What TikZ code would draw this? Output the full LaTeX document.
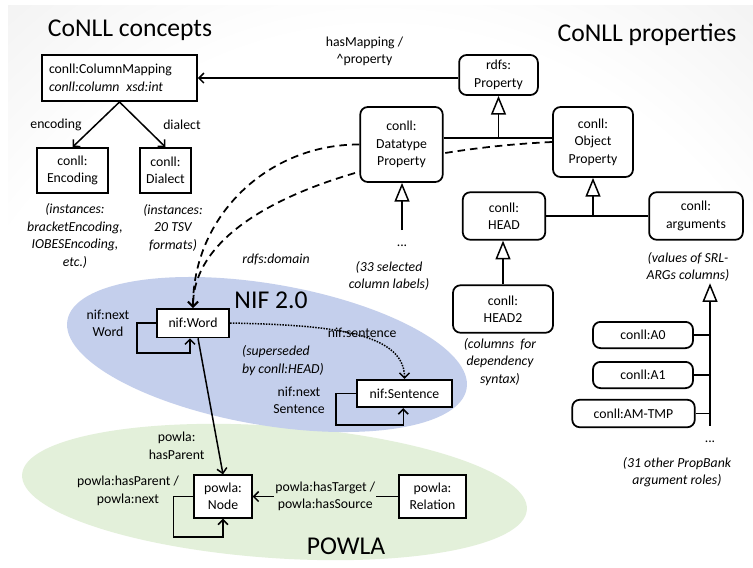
\documentclass[tikz,border=0pt]{standalone}
\usepackage{fontspec}
\setmainfont{Carlito}
\usepackage{tikz}
\usepackage{xcolor}
\usetikzlibrary{positioning, arrows.meta, shapes.geometric}

\definecolor{nifblue}{RGB}{196,207,236}
\definecolor{powlagreen}{RGB}{227,240,218}
\definecolor{slidegray}{RGB}{188,188,188}
\pgfdeclareradialshading{slidebg}{\pgfpoint{0bp}{0bp}}{color(0bp)=(white); color(18bp)=(white); color(48bp)=(slidegray); color(50bp)=(slidegray)}

\tikzset{
  concept/.style={draw, fill=white, line width=1.4pt, inner sep=2pt, align=center},
  property/.style={concept, rounded corners=6pt},
  note/.style={font=\itshape\fontsize{11pt}{14pt}\selectfont, align=center, inner sep=1pt},
  lbl/.style={align=center, inner sep=1pt},
  heading/.style={font=\fontsize{20.5pt}{24pt}\selectfont, inner sep=0pt},
  arr/.style={line width=1.2pt, -{Straight Barb[length=4pt, width=8pt]}},
  inh/.style={line width=1.2pt, -{Triangle[open, length=15pt, width=12pt]}},
  dashedarr/.style={arr, line width=1.4pt, dash pattern=on 6pt off 4pt},
}

\begin{document}
\begin{tikzpicture}[x=0.8pt, y=-0.8pt, font=\fontsize{11pt}{14pt}\selectfont]
  \useasboundingbox (0,0) rectangle (753,567);
  % background and the two vocabularies
  \begin{scope}
    \clip (8,5) rectangle (753,567);
    \shade[shading=slidebg] (-300,-200) rectangle (1060,1440);
  \end{scope}
  \fill[powlagreen, rotate around={-4:(274.5,492)}] (274.5,492) ellipse (253 and 66);
  \fill[nifblue, rotate around={-9.7:(267,354.5)}] (267,354.5) ellipse (202.5 and 70.6);

  \node[heading] (tconcepts) at (130,30) {CoNLL concepts};
  \node[heading] (tprops) at (647,35) {CoNLL properties};
  \node[heading] (tnif) at (271,300) {NIF 2.0};
  \node[heading] (tpowla) at (346,546) {POWLA};

  % CoNLL concepts
  \node[concept, align=left, text width=112.8pt, inner xsep=5.6pt, minimum height=37pt] (colmap) at (119.5,78)
    {conll:ColumnMapping\\\textit{conll:column\enspace xsd:int}};
  \node[concept, minimum width=57pt, minimum height=36pt] (enc) at (72.5,170.5) {conll:\\Encoding};
  \node[concept, minimum width=41pt, minimum height=36pt] (dial) at (165.5,170.5) {conll:\\Dialect};
  \node[note] (encnote) at (75,236) {(instances:\\bracketEncoding,\\IOBESEncoding,\\etc.)};
  \node[note] (dialnote) at (173,227.5) {(instances:\\20 TSV\\formats)};

  % CoNLL properties
  \node[property, minimum width=63pt, minimum height=32pt] (prop) at (498.5,75) {rdfs:\\Property};
  \node[property, minimum width=64pt, minimum height=56pt] (objprop) at (593,142) {conll:\\Object\\Property};
  \node[concept, minimum width=58pt, minimum height=23pt] (word) at (193,323) {nif:Word};
  % goes behind the datatype box
  \draw[dashedarr] (objprop.west) .. controls (380,150) and (193,205) .. (word.north);
  \node[property, minimum width=66pt, minimum height=60pt] (dtprop) at (401.5,144.5) {conll:\\Datatype\\Property};
  \draw[dashedarr] (dtprop.west) .. controls (268,144) and (193,216) .. (word.north);
  \node[note] (domainlbl) at (276,260) {rdfs:domain};

  \node[property, minimum width=66pt, minimum height=38pt] (head) at (504,216) {conll:\\HEAD};
  \node[property, minimum width=75pt, minimum height=38pt] (args) at (696,216) {conll:\\arguments};
  \node[property, minimum width=80pt, minimum height=38pt] (head2) at (503,309) {conll:\\HEAD2};
  \node[property, minimum width=80pt, minimum height=21pt] (argA0) at (643,335) {conll:A0};
  \node[property, minimum width=80pt, minimum height=21pt] (argA1) at (643,375) {conll:A1};
  \node[property, minimum width=98pt, minimum height=22pt] (argTMP) at (633.5,413.5) {conll:AM-TMP};

  \node (dtdots) at (402,246) {...};
  \node[note] (dtnote) at (389,276) {(33 selected\\column labels)};
  \node[note] (headnote) at (500,362) {(columns\ \ for\\dependency\\syntax)};
  \node[note] (argsnote) at (688,267) {(values of SRL-\\ARGs columns)};
  \node (argdots) at (710,442) {...};
  \node[note] (rolesnote) at (677,472) {(31 other PropBank\\argument roles)};

  % NIF and POWLA
  \node[concept, minimum width=76pt, minimum height=22pt] (sent) at (404.5,393.5) {nif:Sentence};
  \node[concept, minimum width=46pt, minimum height=34pt] (pnode) at (223,496.5) {powla:\\Node};
  \node[concept, minimum width=54pt, minimum height=34pt] (prel) at (432.5,496.5) {powla:\\Relation};
  \node[note, align=left] (supnote) at (283,360.5) {(superseded\\by conll:HEAD)};
  \node[lbl] (wordloop) at (108,323.5) {nif:next\\Word};
  \node[lbl] (sentloop) at (299,400.5) {nif:next\\Sentence};
  \node[lbl] (nodeloop) at (128,491) {powla:hasParent /\\powla:next};

  % connectors
  \draw[arr] (prop.west |- colmap.east) -- (colmap.east)
    node[lbl, pos=0.36, above=8pt] {hasMapping /\\\textasciicircum property};
  \draw[arr] (colmap.south) -- (enc.north) node[lbl, midway, left=10pt] {encoding};
  \draw[arr] (colmap.south) -- (dial.north) node[lbl, midway, right=15pt] {dialect};

  \coordinate (propjoin) at (498.5,138);
  \draw[line width=1.2pt] (propjoin -| dtprop.east) -- (propjoin -| objprop.west);
  \draw[inh] (propjoin) -- (prop.south);
  \coordinate (objjoin) at (593,216);
  \draw[line width=1.2pt] (head.east) -- (args.west);
  \draw[inh] (objjoin) -- (objprop.south);
  \draw[inh] (head2.north) -- (head2.north |- head.south);
  \draw[inh, shorten <=8.5pt] (dtdots) -- (dtdots |- dtprop.south);
  \draw[inh, shorten <=9pt] (argdots) -- (argdots |- argsnote.south);
  \draw[line width=1.2pt] (argA0.east) -- (argA0.east -| argdots);
  \draw[line width=1.2pt] (argA1.east) -- (argA1.east -| argdots);
  \draw[line width=1.2pt] (argTMP.east) -- (argTMP.east -| argdots);

  \draw[arr] (word.west) -- ++(-19,0) -- ++(0,30) -| ([xshift=-2.4pt]word.south);
  \draw[arr] (sent.west) -- ++(-20,0) -- ++(0,31.5) -| ([xshift=-1pt]sent.south);
  \draw[arr] (pnode.west) -- ++(-20,0) -- ++(0,40.5) -| (pnode.south);
  \draw[arr] ([xshift=4pt]word.south) -- (pnode.north)
    node[lbl, pos=0.79, left=9pt] {powla:\\hasParent};
  \draw[arr, densely dotted] (word.east) .. controls (320,325) and (404.5,330) .. (sent.north)
    node[lbl, pos=0.56, yshift=3pt] {nif:sentence};
  \draw[arr] (prel.west) -- (pnode.east)
    node[lbl, midway, fill=powlagreen] {powla:hasTarget /\\powla:hasSource};
\end{tikzpicture}
\end{document}
